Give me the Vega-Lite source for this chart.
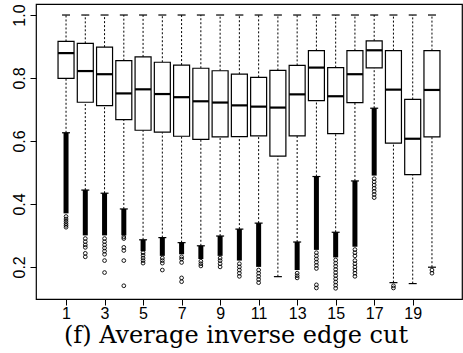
{
  "$schema": "https://vega.github.io/schema/vega-lite/v6.json",
  "autosize": "none",
  "width": 426,
  "height": 295,
  "padding": {"left": 36, "top": 4, "right": 1, "bottom": 54},
  "background": "white",
  "config": {
    "view": {"stroke": "black", "strokeWidth": 1.2},
    "axis": {"grid": false, "domain": false, "tickColor": "black", "tickSize": 6, "tickWidth": 1, "labelColor": "black", "labelFont": "Liberation Sans", "labelFontSize": 16, "title": null}
  },
  "title": {"text": "(f) Average inverse edge cut", "orient": "bottom", "font": "DejaVu Serif", "fontSize": 24, "fontWeight": "normal", "color": "black", "offset": 3, "dx": -13},
  "datasets": {
    "boxes": [
      {"g": 1, "lower": 0.626, "q1": 0.799, "median": 0.879, "q3": 0.916, "upper": 1.0},
      {"g": 2, "lower": 0.444, "q1": 0.723, "median": 0.822, "q3": 0.910, "upper": 1.0},
      {"g": 3, "lower": 0.434, "q1": 0.712, "median": 0.812, "q3": 0.898, "upper": 1.0},
      {"g": 4, "lower": 0.384, "q1": 0.668, "median": 0.751, "q3": 0.855, "upper": 1.0},
      {"g": 5, "lower": 0.286, "q1": 0.634, "median": 0.764, "q3": 0.867, "upper": 1.0},
      {"g": 6, "lower": 0.293, "q1": 0.628, "median": 0.749, "q3": 0.850, "upper": 1.0},
      {"g": 7, "lower": 0.277, "q1": 0.615, "median": 0.739, "q3": 0.841, "upper": 1.0},
      {"g": 8, "lower": 0.267, "q1": 0.605, "median": 0.726, "q3": 0.831, "upper": 1.0},
      {"g": 9, "lower": 0.298, "q1": 0.613, "median": 0.722, "q3": 0.823, "upper": 1.0},
      {"g": 10, "lower": 0.320, "q1": 0.614, "median": 0.713, "q3": 0.812, "upper": 1.0},
      {"g": 11, "lower": 0.339, "q1": 0.616, "median": 0.709, "q3": 0.802, "upper": 1.0},
      {"g": 12, "lower": 0.169, "q1": 0.552, "median": 0.706, "q3": 0.824, "upper": 1.0},
      {"g": 13, "lower": 0.279, "q1": 0.616, "median": 0.748, "q3": 0.840, "upper": 1.0},
      {"g": 14, "lower": 0.487, "q1": 0.728, "median": 0.833, "q3": 0.887, "upper": 1.0},
      {"g": 15, "lower": 0.310, "q1": 0.623, "median": 0.742, "q3": 0.833, "upper": 1.0},
      {"g": 16, "lower": 0.473, "q1": 0.722, "median": 0.812, "q3": 0.887, "upper": 1.0},
      {"g": 17, "lower": 0.704, "q1": 0.832, "median": 0.888, "q3": 0.918, "upper": 1.0},
      {"g": 18, "lower": 0.150, "q1": 0.593, "median": 0.763, "q3": 0.887, "upper": 1.0},
      {"g": 19, "lower": 0.147, "q1": 0.493, "median": 0.607, "q3": 0.732, "upper": 1.0},
      {"g": 20, "lower": 0.199, "q1": 0.613, "median": 0.762, "q3": 0.887, "upper": 1.0}
    ],
    "dense": [
      {"g": 1, "hi": 0.626, "lo": 0.37},
      {"g": 2, "hi": 0.444, "lo": 0.30},
      {"g": 3, "hi": 0.434, "lo": 0.30},
      {"g": 4, "hi": 0.384, "lo": 0.30},
      {"g": 5, "hi": 0.286, "lo": 0.25},
      {"g": 6, "hi": 0.293, "lo": 0.235},
      {"g": 7, "hi": 0.277, "lo": 0.24},
      {"g": 8, "hi": 0.267, "lo": 0.225},
      {"g": 9, "hi": 0.298, "lo": 0.235},
      {"g": 10, "hi": 0.320, "lo": 0.22},
      {"g": 11, "hi": 0.339, "lo": 0.20},
      {"g": 13, "hi": 0.279, "lo": 0.19},
      {"g": 14, "hi": 0.487, "lo": 0.254},
      {"g": 15, "hi": 0.310, "lo": 0.23},
      {"g": 16, "hi": 0.473, "lo": 0.264},
      {"g": 17, "hi": 0.704, "lo": 0.49}
    ],
    "outliers": [
      {"g": 1, "v": 0.36}, {"g": 1, "v": 0.352}, {"g": 1, "v": 0.345}, {"g": 1, "v": 0.338}, {"g": 1, "v": 0.332}, {"g": 1, "v": 0.326},
      {"g": 2, "v": 0.29}, {"g": 2, "v": 0.28}, {"g": 2, "v": 0.27}, {"g": 2, "v": 0.262}, {"g": 2, "v": 0.243}, {"g": 2, "v": 0.232},
      {"g": 3, "v": 0.29}, {"g": 3, "v": 0.28}, {"g": 3, "v": 0.27}, {"g": 3, "v": 0.26}, {"g": 3, "v": 0.25}, {"g": 3, "v": 0.24}, {"g": 3, "v": 0.22}, {"g": 3, "v": 0.182},
      {"g": 4, "v": 0.295}, {"g": 4, "v": 0.29}, {"g": 4, "v": 0.262}, {"g": 4, "v": 0.252}, {"g": 4, "v": 0.22}, {"g": 4, "v": 0.14},
      {"g": 5, "v": 0.245}, {"g": 5, "v": 0.237}, {"g": 5, "v": 0.228}, {"g": 5, "v": 0.22}, {"g": 5, "v": 0.212},
      {"g": 6, "v": 0.228}, {"g": 6, "v": 0.22}, {"g": 6, "v": 0.212}, {"g": 6, "v": 0.19},
      {"g": 7, "v": 0.232}, {"g": 7, "v": 0.225}, {"g": 7, "v": 0.214}, {"g": 7, "v": 0.165}, {"g": 7, "v": 0.153},
      {"g": 8, "v": 0.218}, {"g": 8, "v": 0.21}, {"g": 8, "v": 0.203},
      {"g": 9, "v": 0.228}, {"g": 9, "v": 0.22}, {"g": 9, "v": 0.21}, {"g": 9, "v": 0.2},
      {"g": 10, "v": 0.21}, {"g": 10, "v": 0.2}, {"g": 10, "v": 0.19}, {"g": 10, "v": 0.18}, {"g": 10, "v": 0.17},
      {"g": 11, "v": 0.19}, {"g": 11, "v": 0.18}, {"g": 11, "v": 0.17}, {"g": 11, "v": 0.16}, {"g": 11, "v": 0.15},
      {"g": 13, "v": 0.18}, {"g": 13, "v": 0.172}, {"g": 13, "v": 0.165},
      {"g": 14, "v": 0.245}, {"g": 14, "v": 0.235}, {"g": 14, "v": 0.225}, {"g": 14, "v": 0.215}, {"g": 14, "v": 0.205}, {"g": 14, "v": 0.195}, {"g": 14, "v": 0.143}, {"g": 14, "v": 0.133},
      {"g": 15, "v": 0.222}, {"g": 15, "v": 0.212}, {"g": 15, "v": 0.202}, {"g": 15, "v": 0.192}, {"g": 15, "v": 0.182}, {"g": 15, "v": 0.172}, {"g": 15, "v": 0.162}, {"g": 15, "v": 0.152}, {"g": 15, "v": 0.142}, {"g": 15, "v": 0.132},
      {"g": 16, "v": 0.255}, {"g": 16, "v": 0.245}, {"g": 16, "v": 0.235}, {"g": 16, "v": 0.22}, {"g": 16, "v": 0.21}, {"g": 16, "v": 0.2}, {"g": 16, "v": 0.19}, {"g": 16, "v": 0.18}, {"g": 16, "v": 0.17},
      {"g": 17, "v": 0.48}, {"g": 17, "v": 0.47}, {"g": 17, "v": 0.46}, {"g": 17, "v": 0.45}, {"g": 17, "v": 0.44}, {"g": 17, "v": 0.43}, {"g": 17, "v": 0.42},
      {"g": 18, "v": 0.14}, {"g": 18, "v": 0.133},
      {"g": 20, "v": 0.19}, {"g": 20, "v": 0.18}
    ]
  },
  "layer": [
    {
      "data": {"name": "boxes"},
      "mark": {"type": "rule", "color": "black", "strokeWidth": 1, "strokeDash": [2, 2]},
      "encoding": {
        "x": {"field": "g", "type": "quantitative", "scale": {"domain": [-0.3, 21.3], "nice": false, "zero": false},
          "axis": {"values": [1,2,3,4,5,6,7,8,9,10,11,12,13,14,15,16,17,18,19,20], "labelExpr": "datum.value % 2 == 1 ? datum.label : ''", "labelPadding": 0}},
        "y": {"field": "lower", "type": "quantitative", "scale": {"domain": [0.098, 1.035], "nice": false, "zero": false},
          "axis": {"values": [0.2, 0.4, 0.6, 0.8, 1.0], "format": ".1f", "labelAngle": -90, "labelAlign": "center", "labelBaseline": "bottom", "labelPadding": 3}},
        "y2": {"field": "q1"}
      }
    },
    {
      "data": {"name": "boxes"},
      "mark": {"type": "rule", "color": "black", "strokeWidth": 1, "strokeDash": [2, 2]},
      "encoding": {
        "x": {"field": "g", "type": "quantitative"},
        "y": {"field": "q3", "type": "quantitative"},
        "y2": {"field": "upper"}
      }
    },
    {
      "data": {"name": "dense"},
      "mark": {"type": "rule", "color": "black", "strokeWidth": 5},
      "encoding": {
        "x": {"field": "g", "type": "quantitative"},
        "y": {"field": "hi", "type": "quantitative"},
        "y2": {"field": "lo"}
      }
    },
    {
      "data": {"name": "outliers"},
      "mark": {"type": "point", "shape": "circle", "filled": false, "color": "black", "size": 14, "strokeWidth": 0.9, "opacity": 1},
      "encoding": {
        "x": {"field": "g", "type": "quantitative"},
        "y": {"field": "v", "type": "quantitative"}
      }
    },
    {
      "data": {"name": "boxes"},
      "mark": {"type": "bar", "width": 16, "fill": "white", "stroke": "black", "strokeWidth": 1.2},
      "encoding": {
        "x": {"field": "g", "type": "quantitative"},
        "y": {"field": "q1", "type": "quantitative"},
        "y2": {"field": "q3"}
      }
    },
    {
      "data": {"name": "boxes"},
      "mark": {"type": "tick", "orient": "horizontal", "color": "black", "size": 16, "thickness": 2.2, "opacity": 1},
      "encoding": {
        "x": {"field": "g", "type": "quantitative"},
        "y": {"field": "median", "type": "quantitative"}
      }
    },
    {
      "data": {"name": "boxes"},
      "mark": {"type": "tick", "orient": "horizontal", "color": "black", "size": 8, "thickness": 1.2, "opacity": 1},
      "encoding": {
        "x": {"field": "g", "type": "quantitative"},
        "y": {"field": "upper", "type": "quantitative"}
      }
    },
    {
      "data": {"name": "boxes"},
      "mark": {"type": "tick", "orient": "horizontal", "color": "black", "size": 8, "thickness": 1.2, "opacity": 1},
      "encoding": {
        "x": {"field": "g", "type": "quantitative"},
        "y": {"field": "lower", "type": "quantitative"}
      }
    }
  ]
}
